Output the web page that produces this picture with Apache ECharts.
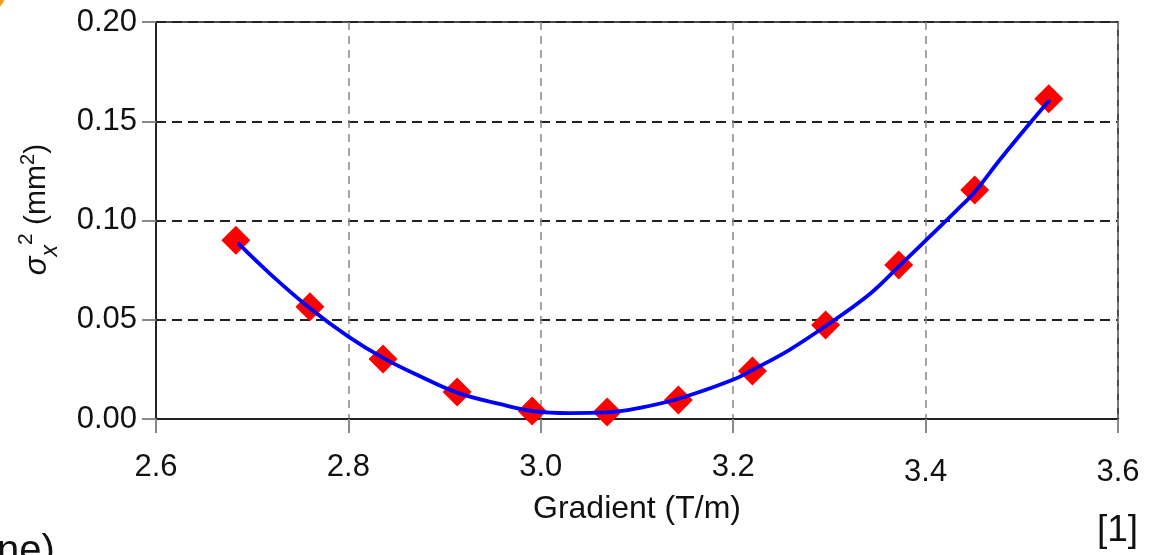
<!DOCTYPE html>
<html>
<head>
<meta charset="utf-8">
<script src="https://cdn.jsdelivr.net/npm/echarts@6/dist/echarts.min.js"></script>
<style>
html,body{margin:0;padding:0;background:#fff;}
#chart{width:1161px;height:555px;}
</style>
</head>
<body>
<div id="chart"></div>
<script>
// Measured points
var gradient = [2.683, 2.760, 2.836, 2.913, 2.991, 3.069, 3.143, 3.220, 3.296, 3.372, 3.451, 3.528];
var sigma2   = [0.0900, 0.0565, 0.0302, 0.0136, 0.0040, 0.0035, 0.0096, 0.0242, 0.0474, 0.0776, 0.1154, 0.1613];
// Fit curve
var fitX = [2.685, 2.720, 2.760, 2.800, 2.836, 2.875, 2.913, 2.957, 2.992, 3.030, 3.069, 3.103, 3.144, 3.199, 3.220, 3.259, 3.296, 3.342, 3.373, 3.432, 3.451, 3.477, 3.511, 3.529];
var fitY = [0.0887, 0.0725, 0.0558, 0.0415, 0.0308, 0.0214, 0.0133, 0.0076, 0.0040, 0.0030, 0.0033, 0.0056, 0.0103, 0.0196, 0.0247, 0.0350, 0.0468, 0.0630, 0.0773, 0.1050, 0.1144, 0.1305, 0.1505, 0.1607];
// Axis ticks
var xTicks = [2.6, 2.8, 3.0, 3.2, 3.4, 3.6];
var yTicks = [0.00, 0.05, 0.10, 0.15, 0.20];

var FONT = '"Liberation Sans", Arial, sans-serif';
var chart = echarts.init(document.getElementById('chart'), null, {renderer: 'canvas'});

var pts = gradient.map(function (x, i) { return [x, sigma2[i]]; });
var fit = fitX.map(function (x, i) { return [x, fitY[i]]; });

chart.setOption({
  animation: false,
  backgroundColor: '#ffffff',
  grid: {left: 156, right: 43, top: 22, bottom: 136, show: true, borderColor: '#111', borderWidth: 1.5, backgroundColor: 'transparent'},
  xAxis: {
    type: 'value',
    min: xTicks[0], max: xTicks[xTicks.length - 1], interval: 0.2,
    name: 'Gradient (T/m)', nameLocation: 'middle', nameGap: 70,
    nameTextStyle: {fontFamily: FONT, fontSize: 32, color: '#111'},
    axisLine: {show: true, onZero: false, lineStyle: {color: '#222', width: 2}},
    axisTick: {show: true, length: 14, lineStyle: {color: '#888', width: 2}},
    axisLabel: {
      margin: 33, fontFamily: FONT, fontSize: 31, color: '#111',
      formatter: function (v) {
        var s = v.toFixed(1);
        return (v > 3.3) ? '{lo|' + s + '}' : '{hi|' + s + '}';
      },
      rich: {
        hi: {fontFamily: FONT, fontSize: 31, color: '#111', padding: [0, 0, 4, 0]},
        lo: {fontFamily: FONT, fontSize: 31, color: '#111', padding: [5, 0, 0, 0]}
      }
    },
    splitLine: {show: true, lineStyle: {color: '#888', width: 1.5, type: [8, 6]}}
  },
  yAxis: {
    type: 'value',
    min: yTicks[0], max: yTicks[yTicks.length - 1], interval: 0.05,
    name: '{s|σ}{sub|x}{sup|2}{n| (mm}{sup2|2}{n|)}', nameLocation: 'middle', nameGap: 100,
    nameTextStyle: {
      fontFamily: FONT, fontSize: 30, color: '#111', padding: [0, 0, 0, 22],
      rich: {
        s: {fontFamily: FONT, fontSize: 31, fontStyle: 'italic', color: '#111', verticalAlign: 'middle', lineHeight: 38},
        sub: {fontFamily: FONT, fontSize: 23, fontStyle: 'italic', color: '#111', verticalAlign: 'bottom', lineHeight: 38, padding: [0, 0, -6, 0]},
        sup: {fontFamily: FONT, fontSize: 21, color: '#111', verticalAlign: 'top', lineHeight: 38, padding: [-2, 0, 0, 0]},
        n: {fontFamily: FONT, fontSize: 30, color: '#111', verticalAlign: 'middle', lineHeight: 38},
        sup2: {fontFamily: FONT, fontSize: 20, color: '#111', verticalAlign: 'top', lineHeight: 38}
      }
    },
    axisLine: {show: true, onZero: false, lineStyle: {color: '#222', width: 2}},
    axisTick: {show: true, length: 14, lineStyle: {color: '#888', width: 2}},
    axisLabel: {margin: 19, fontFamily: FONT, fontSize: 31, color: '#111',
      formatter: function (v) { return v.toFixed(2); }},
    splitLine: {show: true, lineStyle: {color: '#222', width: 2, type: [10, 6]}}
  },
  series: [
    {
      type: 'scatter', data: pts, symbol: 'diamond', symbolSize: 29,
      itemStyle: {color: '#ff0000', opacity: 1}, z: 3
    },
    {
      type: 'line', data: fit, showSymbol: false, smooth: 0.4,
      lineStyle: {color: '#0000ff', width: 3.8}, z: 4
    }
  ],
  graphic: [
    {type: 'text', left: 1097, top: 512, style: {text: '[1]', fontFamily: FONT, fontSize: 37, fill: '#111'}},
    {type: 'text', left: -3, top: 532, style: {text: 'ne)', fontFamily: FONT, fontSize: 40, fill: '#111'}},
    {type: 'circle', shape: {cx: -11, cy: -5, r: 14}, style: {fill: 'none', stroke: '#f29a1e', lineWidth: 4}}
  ]
});
</script>
</body>
</html>
